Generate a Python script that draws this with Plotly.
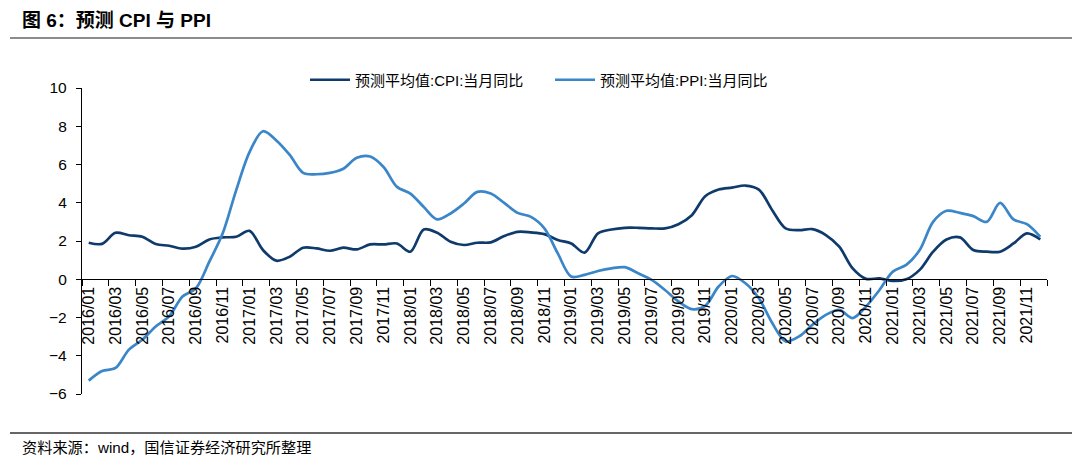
import plotly.graph_objects as go

months = [f"{y}/{m:02d}" for y in range(2016, 2022) for m in range(1, 13)]

cpi = [1.91, 1.85, 2.43, 2.30, 2.22, 1.84, 1.75, 1.60, 1.70, 2.08, 2.19, 2.22,
       2.53, 1.53, 0.97, 1.18, 1.65, 1.61, 1.49, 1.65, 1.56, 1.82, 1.82, 1.87,
       1.44, 2.60, 2.43, 1.96, 1.79, 1.91, 1.93, 2.26, 2.48, 2.45, 2.36, 2.05,
       1.87, 1.39, 2.40, 2.60, 2.69, 2.69, 2.66, 2.66, 2.88, 3.35, 4.34, 4.69,
       4.79, 4.90, 4.69, 3.61, 2.66, 2.57, 2.62, 2.31, 1.70, 0.57, 0.02, 0.05,
       -0.09, 0.00, 0.49, 1.44, 2.08, 2.19, 1.53, 1.44, 1.44, 1.87, 2.40, 2.08]

ppi = [-5.30, -4.80, -4.64, -3.68, -3.16, -2.47, -1.94, -0.90, -0.47, 0.92, 2.40, 4.65,
       6.65, 7.74, 7.26, 6.50, 5.56, 5.49, 5.56, 5.78, 6.35, 6.42, 5.87, 4.83,
       4.48, 3.78, 3.13, 3.44, 3.96, 4.57, 4.48, 3.99, 3.47, 3.26, 2.66, 1.35,
       0.14, 0.23, 0.43, 0.57, 0.63, 0.31, -0.03, -0.56, -1.16, -1.56, -1.39, -0.38,
       0.17, -0.21, -0.99, -2.29, -3.25, -2.99, -2.38, -1.86, -1.60, -2.03, -1.42, -0.56,
       0.40, 0.75, 1.53, 3.00, 3.58, 3.47, 3.30, 3.00, 3.99, 3.13, 2.88, 2.22]

series_names = ["预测平均值:CPI:当月同比", "预测平均值:PPI:当月同比"]
yticks = [-6, -4, -2, 0, 2, 4, 6, 8, 10]

FONT = "Liberation Sans, Arial, Noto Sans CJK SC, sans-serif"
CJK = "Liberation Sans, Noto Sans CJK SC, sans-serif"

# page body adds an 8px offset; all layout pixel targets are compensated
OFF = 8
W, H = 1080, 464
L, T = 82 - OFF, 88 - OFF
R = W - (1047 - OFF)
B = H - (394 - OFF)
PW, PH = W - L - R, H - T - B


def px_x(X):
    return (X - OFF - L) / PW


def px_y(Y):
    return (H - B - (Y - OFF)) / PH


fig = go.Figure()
fig.add_trace(go.Scatter(x=months, y=cpi, name=series_names[0], mode="lines",
                         line=dict(color="#0E3B6C", width=2.7, shape="spline", smoothing=0.9)))
fig.add_trace(go.Scatter(x=months, y=ppi, name=series_names[1], mode="lines",
                         line=dict(color="#3A86C8", width=2.7, shape="spline", smoothing=0.9)))

y_min, y_max = -6, 10
zero_pos = (0 - y_min) / (y_max - y_min)

fig.update_layout(
    width=W, height=H,
    margin=dict(l=L, r=R, t=T, b=B, autoexpand=False),
    paper_bgcolor="white", plot_bgcolor="white",
    font=dict(family=FONT, size=15, color="#000000"),
    showlegend=True,
    legend=dict(orientation="h", xref="container", yref="container",
                x=(312 - OFF - 7) / W, xanchor="left", y=1 - (80 - OFF) / H, yanchor="middle",
                font=dict(family=CJK, size=15, color="#000"), bgcolor="rgba(0,0,0,0)",
                entrywidth=190, itemwidth=40),
    xaxis=dict(type="category", tickson="boundaries", dtick=2, tickangle=-90,
               anchor="free", position=zero_pos, automargin=False,
               showline=True, linecolor="#000", linewidth=1.3,
               ticks="outside", ticklen=6, tickcolor="#000", tickwidth=1.3,
               showgrid=False, zeroline=False,
               tickfont=dict(family=FONT, size=16, color="#000"),
               range=[-0.5, 71.5]),
    yaxis=dict(range=[y_min, y_max], tickvals=yticks, showline=True, linecolor="#000",
               linewidth=1.3, ticks="outside", ticklen=5, tickcolor="#000", tickwidth=1.3,
               showgrid=False, zeroline=False, ticklabelstandoff=6, automargin=False,
               tickfont=dict(family=FONT, size=15.5, color="#000")),
    shapes=[
        dict(type="line", xref="paper", yref="paper", x0=px_x(10), x1=px_x(1090),
             y0=px_y(4), y1=px_y(4), line=dict(color="#666", width=1.5)),
        dict(type="line", xref="paper", yref="paper", x0=px_x(10), x1=px_x(1090),
             y0=px_y(38), y1=px_y(38), line=dict(color="#666", width=1.5)),
        dict(type="line", xref="paper", yref="paper", x0=px_x(10), x1=px_x(1090),
             y0=px_y(433), y1=px_y(433), line=dict(color="#333", width=1.5)),
    ],
    annotations=[
        dict(text="<b>图 6：预测 CPI 与 PPI</b>", xref="paper", yref="paper",
             x=px_x(20), y=px_y(21), xanchor="left", yanchor="middle", showarrow=False,
             font=dict(family=CJK, size=19, color="#000")),
        dict(text="资料来源：wind，国信证券经济研究所整理", xref="paper", yref="paper",
             x=px_x(20), y=px_y(447), xanchor="left", yanchor="middle", showarrow=False,
             font=dict(family=CJK, size=15.2, color="#000")),
    ],
)

fig.write_html("out.html")
